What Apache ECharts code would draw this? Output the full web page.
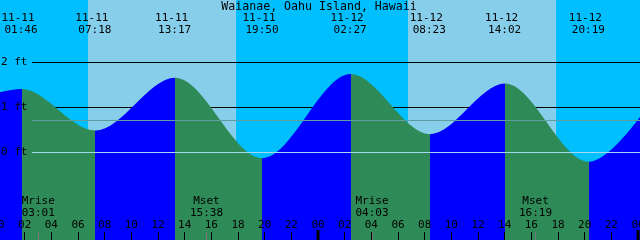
<!DOCTYPE html>
<html>
<head>
<meta charset="utf-8">
<script src="https://cdn.jsdelivr.net/npm/echarts@6/dist/echarts.min.js"></script>
<style>
html,body{margin:0;padding:0;background:#00BFFF;}
#c{width:640px;height:240px;}
</style>
</head>
<body>
<div id="c"></div>
<script>
// ---------- data ----------
const titleText = 'Waianae, Oahu Island, Hawaii';

const tideDates  = ['11-11','11-11','11-11','11-11','11-12','11-12','11-12','11-12'];
const tideTimes  = ['01:46','07:18','13:17','19:50','02:27','08:23','14:02','20:19'];
const tideKinds  = ['H','L','H','L','H','L','H','L'];
const tideFeet   = [1.41, 0.49, 1.66, -0.12, 1.74, 0.41, 1.53, -0.20];

// estimated off-screen neighbours (previous low, next high)
const edgeHours  = [-4.0, 50.8];
const edgeFeet   = [0.90, 1.95];

const sunriseTimes = ['11-11 06:45', '11-12 06:45'];
const sunsetTimes  = ['11-11 17:51', '11-12 17:51'];

const moonNames = ['Mrise', 'Mset', 'Mrise', 'Mset'];
const moonDates = ['11-11', '11-11', '11-12', '11-12'];
const moonTimes = ['03:01', '15:38', '04:03', '16:19'];

const midnightHours = [24, 48];
const heightTicks = [0, 1, 2];
const meanLevelFeet = 0.72;

// ---------- helpers ----------
function toHour(date, time) {
  const day = parseInt(date.split('-')[1], 10) - 11;
  const [h, m] = time.split(':').map(Number);
  return day * 24 + h + m / 60;
}
const tideHours = tideDates.map((d, i) => toHour(d, tideTimes[i]));

const seriesData = [[edgeHours[0], edgeFeet[0]]]
  .concat(tideHours.map((t, i) => [t, tideFeet[i]]))
  .concat([[edgeHours[1], edgeFeet[1]]]);

const BLUE = '#0000FF', GREEN = '#2E8B57';
const pieces = [{ lt: tideHours[0], color: BLUE }];
for (let i = 0; i < tideHours.length; i++) {
  const col = tideKinds[i] === 'H' ? GREEN : BLUE;
  if (i < tideHours.length - 1) pieces.push({ gte: tideHours[i], lt: tideHours[i + 1], color: col });
  else pieces.push({ gte: tideHours[i], color: col });
}

const FONT = 'DejaVu Sans Mono';
const chart = echarts.init(document.getElementById('c'), null, { renderer: 'canvas' });

chart.setOption({
  animation: false,
  backgroundColor: '#00BFFF',
  grid: { left: -2, top: 0, width: 666.67, height: 240, containLabel: false, outerBoundsMode: 'none' },
  xAxis: {
    type: 'value', min: 0, max: 50, interval: 2,
    axisLine: { show: false, onZero: false },
    splitLine: { show: false },
    axisTick: { show: true, inside: true, length: 8, lineStyle: { color: '#000', width: 1 } },
    axisLabel: {
      inside: true, margin: 9, color: '#000', fontFamily: FONT, fontSize: 11,
      hideOverlap: false, showMinLabel: true, showMaxLabel: true,
      formatter: v => String(v % 24).padStart(2, '0')
    },
    z: 10
  },
  yAxis: {
    type: 'value', min: -1.93, max: 3.38,
    show: false
  },
  visualMap: {
    type: 'piecewise', show: false, dimension: 0, seriesIndex: 0,
    pieces: pieces
  },
  series: [{
    type: 'line',
    data: seriesData,
    smooth: 0.333,
    smoothMonotone: 'x',
    showSymbol: false,
    lineStyle: { width: 0 },
    areaStyle: { opacity: 1, origin: 'start' },
    z: 2
  }]
});

// ---------- graphic overlay positioned through the chart's scales ----------
const px = t => chart.convertToPixel({ xAxisIndex: 0 }, t);
const py = v => chart.convertToPixel({ yAxisIndex: 0 }, v);
const els = [];
const txt = (text, x, y, align, size) => ({
  type: 'text', z: 12,
  style: { text: text, x: x, y: y, font: (size || 11) + 'px "' + FONT + '"', fill: '#000',
           align: align, verticalAlign: 'middle', textAlign: align, textVerticalAlign: 'middle' }
});

// day bands
sunriseTimes.forEach((s, i) => {
  const [d1, t1] = s.split(' ');
  const [d2, t2] = sunsetTimes[i].split(' ');
  const x1 = px(toHour(d1, t1)), x2 = px(toHour(d2, t2));
  els.push({ type: 'rect', z: 0, shape: { x: x1, y: 0, width: x2 - x1, height: 240 }, style: { fill: '#87CEEB' } });
});

// height lines
heightTicks.forEach(v => {
  const y = Math.floor(py(v));
  if (v > 0) {
    els.push({ type: 'rect', z: 1, shape: { x: 32, y: y, width: 608, height: 1 }, style: { fill: '#000' } });
  } else {
    els.push({ type: 'rect', z: 5, shape: { x: 32, y: y, width: 608, height: 1 }, style: { fill: '#A4D8EE' } });
  }
  els.push(txt(v + ' ft', 1, py(v) - 0.5, 'left'));
});
{
  const y = Math.floor(py(meanLevelFeet));
  els.push({ type: 'rect', z: 5, shape: { x: 32, y: y, width: 608, height: 1 }, style: { fill: '#5F9EA0' } });
}

// title
els.push(txt(titleText, 319, 6.5, 'center', 11.6));

// tide event labels
tideHours.forEach((t, i) => {
  const x = px(t);
  let xd = x - 3.5;
  if (xd < 16.7) xd = 16.7;
  els.push(txt(tideDates[i], xd, 18, 'center'));
  els.push(txt(tideTimes[i], x - 0.5, 30, 'center'));
});

// moon events
moonNames.forEach((n, i) => {
  const x = px(toHour(moonDates[i], moonTimes[i]));
  els.push(txt(n, x, 201.5, 'center'));
  els.push(txt(moonTimes[i], x, 213.5, 'center'));
  els.push({ type: 'rect', z: 11, shape: { x: Math.floor(x), y: 232, width: 1, height: 8 }, style: { fill: '#777' } });
});

// midnight marks
midnightHours.forEach(t => {
  const x = px(t);
  els.push({ type: 'rect', z: 11, shape: { x: Math.round(x) - 1.5, y: 230, width: 3, height: 10 }, style: { fill: '#000' } });
});

chart.setOption({ graphic: { elements: els } });
</script>
</body>
</html>
